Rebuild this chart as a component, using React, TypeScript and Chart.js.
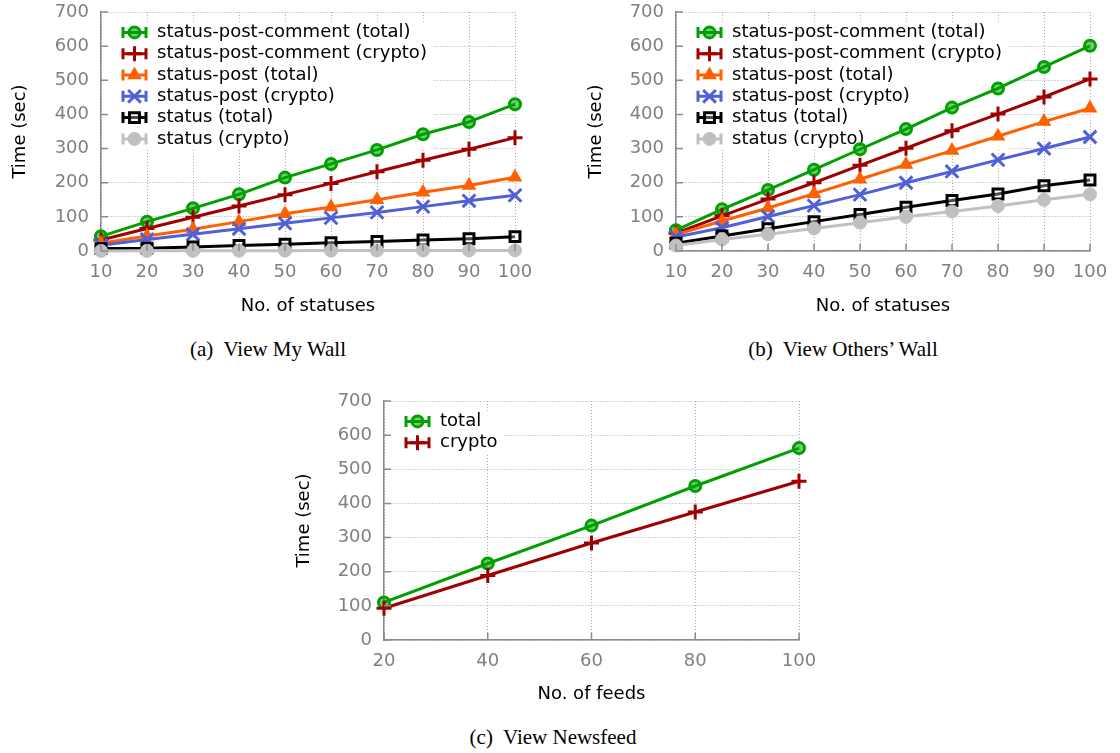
import React, { useEffect, useRef } from 'react';
import { Chart, registerables } from 'chart.js';
import { drawPoint } from 'chart.js/helpers';

Chart.register(...registerables);

const FONT = "'DejaVu Sans', sans-serif";
const SERIF = "'Liberation Serif', 'Times New Roman', serif";

// ---------- data ----------
const xStatuses = [10, 20, 30, 40, 50, 60, 70, 80, 90, 100];
const xFeeds = [20, 40, 60, 80, 100];
const xTicksStatuses = [10, 20, 30, 40, 50, 60, 70, 80, 90, 100];
const xTicksFeeds = [20, 40, 60, 80, 100];
const yTicks = [0, 100, 200, 300, 400, 500, 600, 700];

const wallLabels = [
  'status-post-comment (total)',
  'status-post-comment (crypto)',
  'status-post (total)',
  'status-post (crypto)',
  'status (total)',
  'status (crypto)',
];
const feedLabels = ['total', 'crypto'];

// (a) View My Wall
const myWallSpcTotal = [43, 86, 125, 166, 215, 255, 296, 342, 378, 430];
const myWallSpcCrypto = [32, 66, 99, 132, 165, 198, 232, 266, 298, 332];
const myWallSpTotal = [23, 44, 64, 86, 109, 129, 150, 172, 192, 216];
const myWallSpCrypto = [17, 34, 49, 65, 81, 97, 113, 130, 147, 163];
const myWallSTotal = [7, 8, 12, 16, 20, 24, 28, 32, 36, 42];
const myWallSCrypto = [0.3, 0.5, 0.6, 0.8, 1.0, 1.1, 1.3, 1.4, 1.6, 1.8];

// (b) View Others' Wall
const othersSpcTotal = [61, 122, 179, 238, 298, 357, 420, 476, 539, 601];
const othersSpcCrypto = [52, 103, 152, 200, 251, 301, 352, 401, 451, 504];
const othersSpTotal = [48, 88, 126, 168, 210, 253, 294, 336, 379, 418];
const othersSpCrypto = [41, 68, 101, 133, 165, 200, 233, 267, 300, 334];
const othersSTotal = [23, 44, 65, 86, 107, 128, 148, 167, 191, 208];
const othersSCrypto = [16, 34, 49, 66, 83, 100, 116, 132, 150, 166];

// (c) View Newsfeed
const feedTotal = [110, 224, 335, 451, 562];
const feedCrypto = [93, 189, 284, 375, 465];

// ---------- styles ----------
const wallStyles = [
  { color: '#00a000', fill: 'rgba(0,160,0,0.55)', pointStyle: 'circle', radius: 5.5, bw: 3 },
  { color: '#a00000', fill: '#a00000', pointStyle: 'cross', radius: 7.5, bw: 3 },
  { color: '#ff6000', fill: '#ff6000', pointStyle: 'triangle', radius: 7, bw: 1.5 },
  { color: '#5060d8', fill: '#5060d8', pointStyle: 'crossRot', radius: 9, bw: 3 },
  { color: '#000000', fill: 'rgba(255,255,255,0.3)', pointStyle: 'rect', radius: 7, bw: 3 },
  { color: '#c0c0c0', fill: '#c0c0c0', pointStyle: 'circle', radius: 6.5, bw: 1 },
];
const feedStyles = [wallStyles[0], wallStyles[1]];

const GRID = '#a8a8a8';
const AXIS = '#8a8a8a';
const TICK = '#808080';

const keyPlugin = {
  id: 'gnukey',
  beforeDatasetsDraw(chart: any, _args: any, opts: any) {
    const { ctx, chartArea } = chart;
    const entries = opts.entries || [];
    const left = chartArea.left;
    const top = chartArea.top;
    const rowH = 21.3;
    const firstY = top + 20.4;
    const textX = left + 56;
    ctx.save();
    ctx.font = `18px ${FONT}`;
    let maxW = 0;
    entries.forEach((e: any) => { maxW = Math.max(maxW, ctx.measureText(e.label).width); });
    const boxTop = firstY - rowH / 2;
    const boxBottom = firstY + (entries.length - 1) * rowH + rowH / 2;
    ctx.fillStyle = '#ffffff';
    ctx.fillRect(left + 1, boxTop, textX + maxW + 6 - left - 1, boxBottom - boxTop);
    entries.forEach((e: any, i: number) => {
      const y = firstY + i * rowH;
      const x0 = left + 22;
      const x1 = left + 45;
      const s = e.style;
      ctx.strokeStyle = s.color;
      ctx.lineWidth = 3;
      ctx.setLineDash([]);
      ctx.beginPath();
      ctx.moveTo(x0, y); ctx.lineTo(x1, y);
      ctx.moveTo(x0, y - 5.5); ctx.lineTo(x0, y + 5.5);
      ctx.moveTo(x1, y - 5.5); ctx.lineTo(x1, y + 5.5);
      ctx.stroke();
      ctx.fillStyle = s.fill;
      ctx.strokeStyle = s.color;
      ctx.lineWidth = s.bw;
      drawPoint(ctx, { pointStyle: s.pointStyle, radius: s.radius, borderWidth: s.bw, rotation: 0 } as any, (x0 + x1) / 2, y);
      ctx.fillStyle = '#000000';
      ctx.textBaseline = 'middle';
      ctx.textAlign = 'left';
      ctx.fillText(e.label, textX, y);
    });
    ctx.restore();
  },
  afterDatasetsDraw(chart: any) {
    const { ctx, chartArea, scales } = chart;
    ctx.save();
    ctx.strokeStyle = AXIS;
    ctx.lineWidth = 1.5;
    ctx.beginPath();
    scales.y.ticks.forEach((t: any) => {
      const y = scales.y.getPixelForValue(t.value);
      ctx.moveTo(chartArea.left, y); ctx.lineTo(chartArea.left + 7, y);
    });
    scales.x.ticks.forEach((t: any) => {
      const x = scales.x.getPixelForValue(t.value);
      ctx.moveTo(x, chartArea.bottom); ctx.lineTo(x, chartArea.bottom - 7);
    });
    ctx.stroke();
    ctx.restore();
  },
};

type Layout = { padL: number; padT: number; padR: number; yW: number; xH: number; titlePadB: number };

function buildConfig(xs: number[], xTicks: number[], series: number[][], labels: string[], styles: any[], xTitle: string, lay: Layout): any {
  const n = series.length;
  return {
    type: 'line',
    data: {
      datasets: series.map((vals, i) => ({
        label: labels[i],
        data: xs.map((x, j) => ({ x, y: vals[j] })),
        borderColor: styles[i].color,
        backgroundColor: styles[i].fill,
        pointBackgroundColor: styles[i].fill,
        pointBorderColor: styles[i].color,
        pointStyle: styles[i].pointStyle,
        pointRadius: styles[i].radius,
        pointBorderWidth: styles[i].bw,
        borderWidth: 3,
        tension: 0,
        fill: false,
        clip: false,
        order: n - 1 - i,
      })),
    },
    options: {
      responsive: false,
      animation: false,
      devicePixelRatio: 1,
      events: [],
      layout: { padding: { left: lay.padL, top: lay.padT, right: lay.padR, bottom: 0 } },
      plugins: {
        legend: { display: false },
        tooltip: { enabled: false },
        gnukey: { entries: labels.map((l, i) => ({ label: l, style: styles[i] })) },
      },
      scales: {
        x: {
          type: 'linear',
          min: xTicks[0],
          max: xTicks[xTicks.length - 1],
          afterBuildTicks: (s: any) => { s.ticks = xTicks.map((v) => ({ value: v })); },
          afterFit: (s: any) => { s.height = lay.xH; s.paddingLeft = 0; s.paddingRight = 0; },
          grid: { color: GRID, lineWidth: 1, drawTicks: false },
          border: { display: true, color: AXIS, width: 1.5, dash: [1, 2] },
          ticks: { color: TICK, font: { size: 18, family: FONT }, padding: 11, maxRotation: 0, autoSkip: false, callback: (v: any) => String(v) },
          title: { display: true, text: xTitle, color: '#000', font: { size: 18, family: FONT }, padding: { top: 0, bottom: lay.titlePadB } },
        },
        y: {
          type: 'linear',
          min: yTicks[0],
          max: yTicks[yTicks.length - 1],
          afterBuildTicks: (s: any) => { s.ticks = yTicks.map((v) => ({ value: v })); },
          afterFit: (s: any) => { s.width = lay.yW; s.paddingTop = 0; s.paddingBottom = 0; },
          grid: { color: GRID, lineWidth: 1, drawTicks: false },
          border: { display: true, color: AXIS, width: 1.5, dash: [1, 2] },
          ticks: { color: TICK, font: { size: 18, family: FONT }, padding: 12, autoSkip: false, callback: (v: any) => String(v) },
          title: { display: true, text: 'Time (sec)', color: '#000', font: { size: 18, family: FONT }, padding: { top: 0, bottom: 0 } },
        },
      },
    },
    plugins: [keyPlugin],
  };
}

function Plot(props: { left: number; top: number; width: number; height: number; config: () => any }) {
  const ref = useRef<HTMLCanvasElement | null>(null);
  useEffect(() => {
    if (!ref.current) return;
    const chart = new Chart(ref.current, props.config());
    return () => chart.destroy();
  }, []);
  return (
    <canvas
      ref={ref}
      width={props.width}
      height={props.height}
      style={{ position: 'absolute', left: props.left, top: props.top, width: props.width, height: props.height }}
    />
  );
}

function Caption(props: { cx: number; top: number; text: string }) {
  return (
    <div
      style={{
        position: 'absolute',
        left: props.cx,
        top: props.top,
        transform: 'translateX(-50%)',
        fontFamily: SERIF,
        fontSize: 21,
        lineHeight: '21px',
        whiteSpace: 'pre',
        color: '#000',
      }}
    >
      {props.text}
    </div>
  );
}

export default function App() {
  return (
    <div style={{ position: 'absolute', left: 0, top: 0, width: 1120, height: 753, background: '#fff', overflow: 'hidden' }}>
      <Plot
        left={0} top={0} width={560} height={335}
        config={() => buildConfig(xStatuses, xTicksStatuses,
          [myWallSpcTotal, myWallSpcCrypto, myWallSpTotal, myWallSpCrypto, myWallSTotal, myWallSCrypto],
          wallLabels, wallStyles, 'No. of statuses',
          { padL: 9.2, padT: 12, padR: 45, yW: 91.8, xH: 84, titlePadB: 18.2 })}
      />
      <Plot
        left={560} top={0} width={560} height={335}
        config={() => buildConfig(xStatuses, xTicksStatuses,
          [othersSpcTotal, othersSpcCrypto, othersSpTotal, othersSpCrypto, othersSTotal, othersSCrypto],
          wallLabels, wallStyles, 'No. of statuses',
          { padL: 25.2, padT: 12, padR: 30, yW: 90.8, xH: 84, titlePadB: 18.2 })}
      />
      <Plot
        left={290} top={380} width={540} height={335}
        config={() => buildConfig(xFeeds, xTicksFeeds,
          [feedTotal, feedCrypto],
          feedLabels, feedStyles, 'No. of feeds',
          { padL: 3.2, padT: 21, padR: 31, yW: 90.8, xH: 75, titlePadB: 10.2 })}
      />
      <Caption cx={268} top={339} text={'(a)  View My Wall'} />
      <Caption cx={843} top={339} text={"(b)  View Others’ Wall"} />
      <Caption cx={553} top={727} text={'(c)  View Newsfeed'} />
    </div>
  );
}
